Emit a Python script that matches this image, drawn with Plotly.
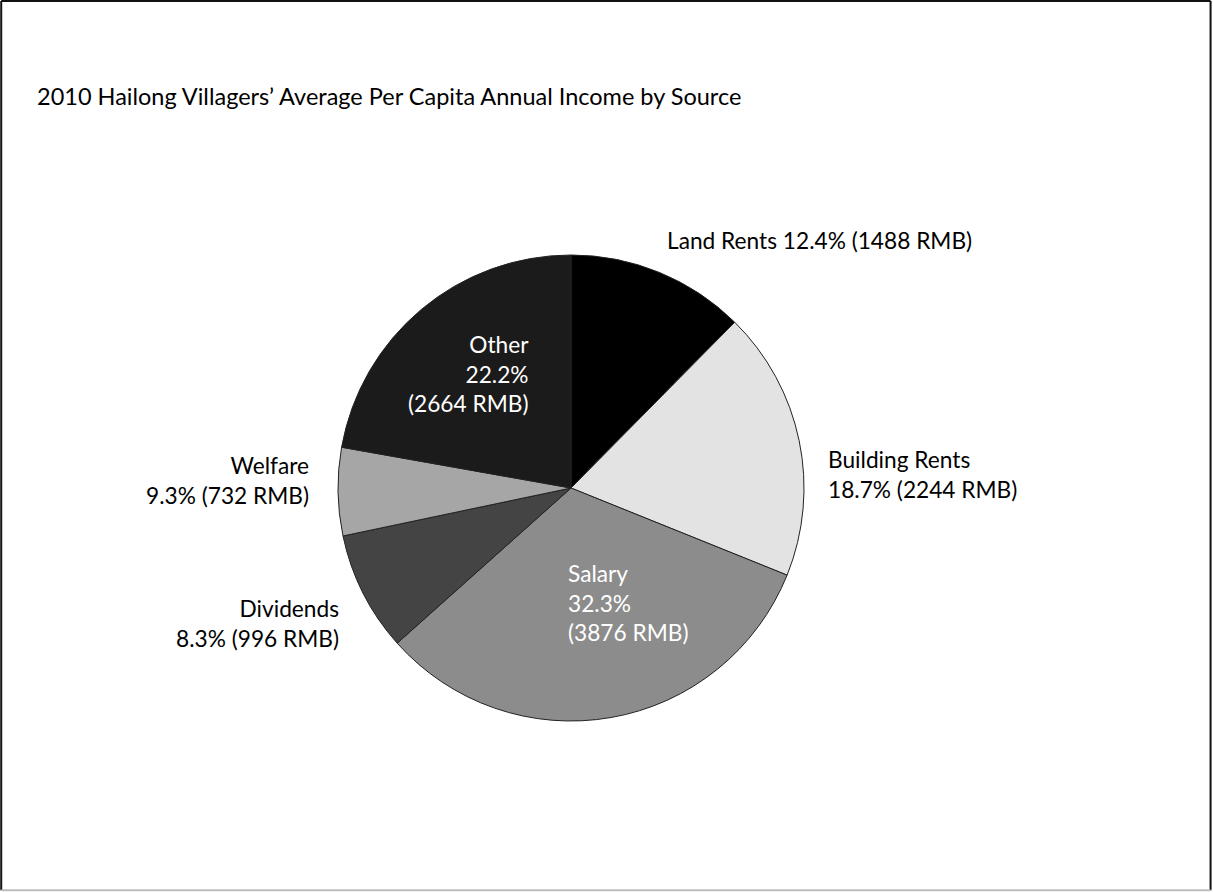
import plotly.graph_objects as go

# income sources, clockwise from 12 o'clock
sources = ['Land Rents', 'Building Rents', 'Salary', 'Dividends', 'Welfare', 'Other']
rmb = [1488, 2244, 3876, 996, 732, 2664]
pct_labels = ['12.4%', '18.7%', '32.3%', '8.3%', '9.3%', '22.2%']
shades = ['#000000', '#e3e3e3', '#8c8c8c', '#444444', '#a6a6a6', '#1b1b1b']

W, H = 1213, 892
FONT = 'Lato'

def px(x, y):
    # pixel position -> paper coords (margins are zero)
    return x / W, 1 - y / H

fig = go.Figure(go.Pie(
    labels=sources,
    values=rmb,
    sort=False,
    direction='clockwise',
    rotation=0,
    textinfo='none',
    hoverinfo='label+value',
    marker=dict(colors=shades, line=dict(color='#222222', width=1)),
    domain=dict(x=[(571 - 233) / W, (571 + 233) / W],
                y=[1 - (488 + 233) / H, 1 - (488 - 233) / H]),
    showlegend=False,
))

lbl = {s: f'{p} ({v} RMB)' for s, p, v in zip(sources, pct_labels, rmb)}

notes = [
    # text, x, y, xanchor, align, colour
    (f'Land Rents {lbl["Land Rents"]}', 665, 241, 'left', 'left', 'black'),
    (f'Building Rents<br>{lbl["Building Rents"]}', 826, 474, 'left', 'left', 'black'),
    (f'Salary<br>{pct_labels[2]}<br>({rmb[2]} RMB)', 566, 603, 'left', 'left', 'white'),
    (f'Dividends<br>{lbl["Dividends"]}', 341, 623, 'right', 'right', 'black'),
    (f'Welfare<br>{lbl["Welfare"]}', 311, 480, 'right', 'right', 'black'),
    (f'Other<br>{pct_labels[5]}<br>({rmb[5]} RMB)', 531, 374, 'right', 'right', 'white'),
]
for text, x, y, xa, al, col in notes:
    ax, ay = px(x, y)
    fig.add_annotation(x=ax, y=ay, xref='paper', yref='paper', text=text,
                       showarrow=False, xanchor=xa, yanchor='middle', align=al,
                       font=dict(family=FONT, size=22.7, color=col))

tx, ty = px(35, 96)
fig.add_annotation(x=tx, y=ty, xref='paper', yref='paper',
                   text="2010 Hailong Villagers\u2019 Average Per Capita Annual Income by Source",
                   showarrow=False, xanchor='left', yanchor='middle',
                   font=dict(family=FONT, size=23.5, color='black'))

# frame round the figure: dark top/left/right, pale bottom edge
for x0, y0, x1, y1, c in [(0.001, 0.999, 0.998, 0.999, '#111111'),
                          (0.001, 0.002, 0.001, 0.999, '#111111'),
                          (0.998, 0.002, 0.998, 0.999, '#111111'),
                          (0.001, 0.002, 0.998, 0.002, '#bbbbbb')]:
    fig.add_shape(type='line', xref='paper', yref='paper', x0=x0, y0=y0, x1=x1, y1=y1,
                  line=dict(color=c, width=2))

fig.update_layout(
    width=W, height=H,
    margin=dict(l=0, r=0, t=0, b=0),
    paper_bgcolor='white',
    plot_bgcolor='white',
)

fig.write_html("out.html", config={'displayModeBar': False},
               post_script="document.body.style.margin='0';")
